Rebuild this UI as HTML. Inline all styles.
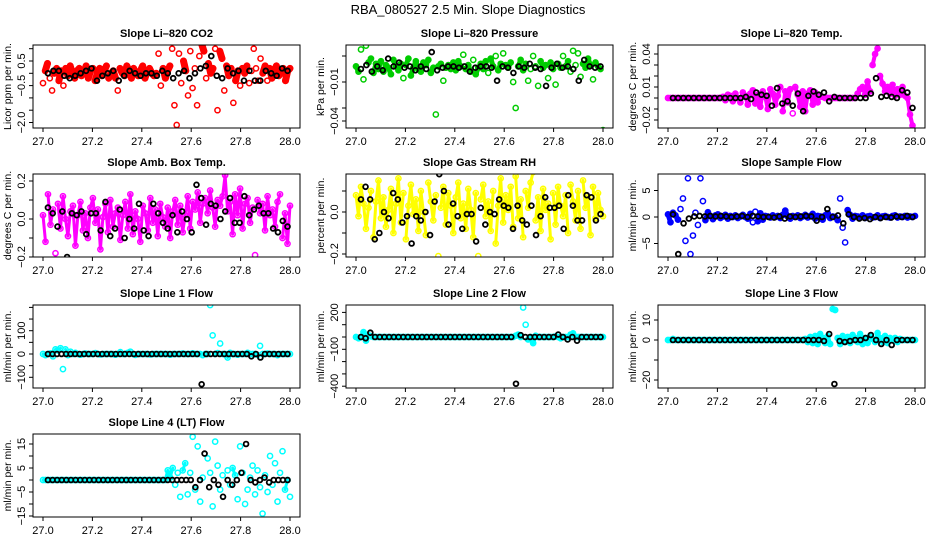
<!DOCTYPE html>
<html><head><meta charset="utf-8">
<style>
html,body{margin:0;padding:0;background:#fff;}
svg{display:block;font-family:"Liberation Sans",Arial,sans-serif;}
</style></head>
<body>
<svg id="chart" width="936" height="540" viewBox="0 0 936 540">
<text x="468" y="14" text-anchor="middle" font-size="13">RBA_080527  2.5 Min. Slope Diagnostics</text>
</svg>
<script>
// ---------- data ----------
const xTickLabels = ["27.0","27.2","27.4","27.6","27.8","28.0"];
const xTickValues = [27.0,27.2,27.4,27.6,27.8,28.0];

const co2Color = [-0.4,0.1,0.4,-0.2,-0.7,0.0,0.2,-0.3,0.1,-0.5,0.2,-0.1,0.3,0.0,-0.2,0.1,0.2,-0.1,0.0,0.3,-0.2,0.1,0.2,-0.3,0.0,0.2,-0.1,0.1,0.3,-0.2,0.0,0.1,-0.2,-0.7,0.2,0.0,-0.1,0.3,0.1,-0.2,0.2,0.0,-0.1,0.1,0.3,-0.2,0.1,0.2,0.0,-0.1,0.0,0.8,-0.5,0.2,-0.2,0.1,0.3,1.0,-1.3,-2.1,0.8,-0.4,0.5,0.1,-0.9,0.9,-0.6,0.2,-1.3,0.7,1.2,0.9,-0.2,0.4,0.0,0.2,1.0,-1.5,0.9,0.6,-0.7,0.3,-0.1,0.2,-1.2,-0.3,0.1,-0.5,0.2,0.0,0.3,-0.4,0.1,1.0,0.2,-0.3,0.6,0.0,0.3,-0.3,0.2,-0.2,0.1,0.3,-0.1,0.0,0.2,-0.3,0.1,0.2];
const co2Black = [0.0,0.1,0.1,-0.1,-0.2,-0.1,0.0,0.1,0.2,-0.3,-0.1,0.0,0.1,-0.3,-0.1,0.1,0.0,-0.1,0.0,0.0,-0.1,0.1,0.0,-0.2,0.0,0.1,-0.2,0.0,0.2,0.3,0.7,-0.1,-0.2,0.2,0.0,0.1,-0.3,0.1,-0.3,-0.3,0.1,0.0,-0.1,0.2,0.1];

const presColor = [0.002,-0.002,0.015,-0.008,0.018,0.005,0.008,-0.003,0.004,0.000,0.006,-0.002,0.003,0.001,-0.004,0.007,0.002,-0.001,0.004,-0.007,0.003,0.008,-0.005,0.001,0.006,0.000,-0.002,0.005,0.003,0.007,-0.003,0.001,-0.035,0.002,0.004,-0.009,0.001,0.003,0.000,0.005,-0.001,0.006,0.002,0.011,0.000,0.003,-0.002,0.007,-0.004,0.001,0.004,0.000,0.006,-0.003,0.008,0.002,0.010,-0.001,0.004,0.012,0.003,0.001,0.005,-0.010,-0.030,0.002,0.007,-0.001,0.004,-0.009,0.000,0.010,0.002,-0.013,0.006,0.001,0.003,-0.007,0.005,0.000,-0.012,0.004,0.001,0.010,0.002,0.006,-0.002,0.014,0.003,0.012,-0.006,0.004,0.001,0.008,0.003,-0.008,0.005,0.002,0.000,-0.047];
const presBlack = [0.000,0.003,-0.002,0.002,-0.001,0.008,0.002,0.005,0.001,0.002,-0.001,0.002,0.000,0.013,-0.001,0.001,0.002,0.002,0.001,0.002,-0.002,0.001,0.002,0.002,0.001,-0.009,0.002,0.001,-0.003,0.002,0.001,0.004,0.001,0.000,-0.013,0.001,0.004,0.001,0.002,0.000,-0.009,0.007,0.002,0.001,0.002];

const tempColor = [0,0,0,0,0,0,0,0,0,0,0,0,0,0,0,0,0,0,0,0,0,0,0.001,-0.002,0.003,0.002,-0.003,0.004,0.000,-0.004,0.005,0.002,-0.006,0.004,0.007,-0.005,0.003,-0.008,0.006,0.001,-0.010,0.008,0.004,-0.006,0.002,0.010,-0.012,0.006,-0.004,0.008,-0.014,0.010,0.003,-0.008,0.006,-0.012,0.004,0.007,-0.006,0.005,-0.004,0.002,0.001,0,0,0,0,0,0,0,0,0,0,0,0,0,0.004,0.008,0.010,0.003,0.015,0.006,0.030,0.040,0.045,0.020,0.013,0.006,0.010,0.004,0.012,0.002,0.008,0.003,0.010,0.002,0.000,-0.015,-0.025,-0.033];
const tempBlack = [0,0,0,0,0,0,0,0,0,0,0,0,0,0,0.001,-0.001,0.005,0.003,0.002,-0.007,0.009,-0.005,-0.003,-0.007,0.004,-0.012,0.002,0.006,0.003,0.005,-0.003,0.001,0,0,0,0,0,0,0.004,0.018,0.001,0.002,0.001,0,0.007,0.005,-0.009];

const ambColor = [0.02,-0.12,0.13,-0.03,0.05,-0.18,0.08,-0.05,0.12,0.00,-0.09,0.04,0.07,-0.14,0.02,0.09,-0.06,0.03,-0.10,0.06,0.11,-0.02,0.05,-0.16,0.01,0.08,-0.07,0.10,-0.04,0.03,0.06,-0.11,0.02,0.09,-0.05,0.13,-0.08,0.04,0.00,-0.12,0.07,0.03,-0.06,0.11,-0.02,0.05,-0.09,0.08,0.01,-0.04,0.06,-0.10,0.04,0.10,-0.03,0.07,-0.07,0.02,0.12,-0.05,0.09,0.05,0.14,-0.02,0.08,0.11,0.03,0.15,0.06,-0.04,0.10,0.07,0.12,0.23,0.04,0.09,-0.08,0.13,0.02,0.16,-0.05,0.08,0.11,-0.02,0.06,-0.19,0.10,0.03,0.08,-0.06,0.12,0.02,0.05,-0.04,0.09,0.13,-0.10,0.03,-0.13,0.07];
const ambBlack = [0.06,0.03,-0.04,0.04,-0.2,0.03,0.02,0.04,-0.08,0.03,0.03,-0.06,0.09,-0.09,-0.05,0.05,-0.1,0.0,-0.05,0.08,-0.06,-0.09,0.08,0.03,-0.02,-0.05,0.02,-0.07,0.04,0.0,-0.07,0.18,0.11,-0.03,0.08,0.07,0.0,0.04,0.11,-0.02,-0.02,0.12,0.02,0.05,0.07,0.03,0.03,-0.05,-0.07,-0.01,-0.04];

const rhColor = [0.08,-0.02,0.12,0.04,-0.08,0.02,0.10,-0.12,0.05,0.15,-0.03,0.07,-0.07,0.01,0.11,-0.10,0.04,0.16,-0.05,0.09,-0.13,0.03,0.13,-0.01,0.06,-0.09,0.10,0.00,-0.11,0.14,0.05,-0.04,0.08,-0.21,0.02,0.12,-0.06,0.09,0.03,-0.10,0.07,0.14,-0.03,0.04,-0.08,0.11,0.01,-0.12,0.09,-0.21,0.06,0.13,-0.02,0.05,-0.09,0.10,-0.15,0.03,0.16,-0.05,0.08,0.01,0.12,-0.07,0.17,-0.03,0.06,-0.12,0.10,0.02,0.14,0.19,-0.04,0.07,-0.09,0.11,0.01,0.04,-0.13,0.09,-0.06,0.12,0.03,-0.02,0.08,-0.10,0.13,0.05,-0.04,0.10,-0.08,0.15,0.02,0.07,-0.11,0.12,-0.03,0.09,0.01,-0.02];
const rhBlack = [0.06,0.12,0.06,-0.13,-0.10,0.0,-0.03,0.09,0.06,-0.05,-0.02,-0.15,-0.02,-0.04,0.0,-0.11,0.05,0.18,0.10,-0.06,0.04,-0.02,-0.08,-0.01,-0.01,-0.14,0.02,-0.06,0.0,-0.01,0.06,0.03,0.02,-0.08,0.03,-0.04,-0.06,0.03,-0.11,-0.02,0.07,0.02,0.02,0.03,-0.08,0.08,0.03,-0.04,-0.04,0.08,0.07,-0.04,-0.01];

const flowColor = [0.5,-1.0,0.8,0.3,-0.5,1.5,3.5,-4.5,7.3,-7.0,-3.5,0.8,-1.5,7.3,3.0,-0.6,0.9,0.2,-0.4,0.3,0.5,-0.2,0.1,0.4,-0.3,0.2,0.0,0.3,-0.2,0.1,0.4,0.0,-0.3,0.6,-1.0,1.0,-0.8,0.7,-0.5,0.2,0.1,-0.1,0.3,0.0,0.2,-0.2,0.4,1.2,0.1,-0.3,0.2,0.0,0.3,-0.2,0.1,0.4,-0.1,0.2,0.6,-0.3,0.2,0.1,-0.5,0.3,0.7,-0.2,0.1,0.0,-0.6,3.5,-2.0,-4.8,1.3,0.4,-0.3,0.2,0.1,0.0,0.3,-0.2,0.1,0.2,-0.1,0.0,0.3,-0.2,0.1,0.2,0.0,-0.1,0.2,0.3,-0.1,0.1,0.0,0.2,-0.1,0.1,0.0,0.2];
const flowBlack = [0.5,-7.0,-1.2,-0.3,0.1,0.2,0.1,0.2,0.1,0.2,0.1,0.0,0.1,0.2,0.0,0.2,0.1,0.0,0.0,-0.1,0.1,-0.3,0.1,0.0,0.1,0.2,0.1,-0.7,0.0,1.5,0.0,0.3,-1.2,0.5,0.0,-0.3,-0.2,-0.4,0.0,-0.2,0.0,-0.1,0.1,0.0,0.2,0.0];

const line1Color = [0,-5,0,3,-10,20,15,25,-65,20,-5,10,0,5,0,-3,0,2,0,0,0,4,0,-2,0,0,0,0,0,-3,0,8,0,0,5,10,0,-4,0,0,0,0,0,-2,0,0,0,0,0,0,0,-3,0,0,0,0,2,0,0,0,3,0,0,0,-5,0,0,210,80,0,4,45,0,0,-15,5,0,0,-3,0,0,0,5,0,0,0,-4,35,0,0,2,0,0,0,-5,0,0,0,0,0];
const line1Black = [0,0,0,0,0,0,0,0,0,0,0,0,0,0,0,0,0,0,0,0,0,0,0,0,0,0,0,0,0,0,0,0,0,0,-130,0,0,0,0,0,0,0,0,0,0,-10,0,-15,0,0,0,0,0,0];
const line2Color = [0,-10,0,40,-30,15,5,0,0,0,0,0,0,0,0,0,0,0,0,0,0,0,0,0,0,0,0,0,0,0,0,0,0,0,0,0,0,0,0,0,0,0,0,0,0,0,0,0,0,0,0,0,0,0,0,0,0,0,0,0,0,0,0,0,10,20,0,240,100,-20,0,-50,10,0,0,0,0,0,0,0,5,0,-10,0,0,0,20,30,0,0,0,0,0,0,0,0,0,0,0,0];
const line2Black = [0,-10,35,0,0,0,0,0,0,0,0,0,0,0,0,0,0,0,0,0,0,0,0,0,0,0,0,0,0,0,0,0,0,-380,15,0,0,0,0,0,0,0,20,0,-20,0,-30,0,0,0,0,0];
const line3Color = [0,0,0.5,0,0,0,0,0,0,0,0,0,0,0,0,0,0,0,0,0,0,0,0,0,0,0,0,0,0,0,0,0,0,0,0,0,0,0,0,0,0,0,0,0,0,0,0,0,0,0,0,0,0,0,0,0.5,-1,1.5,-1.5,2,-2,3,1,-1.5,2,-2,15.5,15,1,-2,2,-1,1.5,-1.5,2.5,1,-1,3,-2,1,-1.5,2,0.5,-1,3.5,1,-1,2,-1.5,1,0,1,-1,0.5,0,0,0,0,0,0];
const line3Black = [0,0,0,0,0,0,0,0,0,0,0,0,0,0,0,0,0,0,0,0,0,0,0,0,0,0,0,0,0,-0.5,3,-22,-0.5,-1,-0.5,0,0,1,2.5,0,-2,0,-2.5,0,0,0,0];
const line4Color = [0,0,0,0,0,0,0,0,0,0,0,0,0,0,0,0,0,0,0,0,0,0,0,0,0,0,0,0,0,0,0,0,0,0,0,0,0,0,0,0,0,0,0,0,0,0,0,0,0,0,4,1,5,-2,3,-7,4,7,-6,3,18,-4,14,-9,1,-20,9,3,-11,16,6,-4,2,-17,4,-2,5,2,-8,14,3,-10,-4,1,6,-6,4,-3,-14,2,-5,10,-2,7,-9,3,12,-4,0,-7];
const line4Black = [0,0,0,0,0,0,0,0,0,0,0,0,0,0,0,0,0,0,0,0,0,0,0,0,0,0,0,0,0,0,0,0,-3,0,11,-3,0,-2,-7,0,-2,0,3,15,0,-1,0,1,-1,0,0,0,0];

// ---------- layout ----------
const colLeft = [33,346,658], rowTop = [45,174,305,434], boxW = 267, boxH = 83;
const panels = [
 {name:"co2",title:"Slope Li\u2013820 CO2",ylab:"Licor ppm per min.",col:"#ff0000",c:co2Color,k:co2Black,r:0,q:0,zero:28.3,ppu:24.6,band:7,jump:12,ticks:[1,0.5,0,-0.5,-1,-1.5,-2],labels:{"0.5":"0.5","-0.5":"\u22120.5","-2":"\u22122.0"}},
 {name:"pressure",title:"Slope Li\u2013820 Pressure",ylab:"kPa per min.",col:"#00cc00",c:presColor,k:presBlack,r:0,q:1,zero:24,ppu:1300,band:5,jump:10,ticks:[0.01,-0.01,-0.03,-0.04],labels:{"-0.01":"\u22120.01","-0.04":"\u22120.04"}},
 {name:"temp",title:"Slope Li\u2013820 Temp.",ylab:"degrees C per min.",col:"#ff00ff",c:tempColor,k:tempBlack,r:0,q:2,zero:53,ppu:1100,band:4,jump:20,ticks:[0.04,0.03,0.02,0.01,0,-0.01,-0.02],labels:{"0.04":"0.04","0.01":"0.01","-0.02":"\u22120.02"}},
 {name:"amb-box-temp",title:"Slope Amb. Box Temp.",ylab:"degrees C per min.",col:"#ff00ff",c:ambColor,k:ambBlack,r:1,q:0,zero:45,ppu:190,band:3,jump:40,ticks:[0.2,0.1,0,-0.1,-0.2],labels:{"0.2":"0.2","0":"0.0","-0.2":"\u22120.2"}},
 {name:"gas-stream-rh",title:"Slope Gas Stream RH",ylab:"percent per min.",col:"#ffff00",c:rhColor,k:rhBlack,r:1,q:1,zero:38,ppu:210,band:3,jump:45,ticks:[0.1,0,-0.1,-0.2],labels:{"0":"0.0","-0.2":"\u22120.2"}},
 {name:"sample-flow",title:"Slope Sample Flow",ylab:"ml/min per min.",col:"#0000ff",c:flowColor,k:flowBlack,r:1,q:2,zero:43,ppu:5.3,band:5,jump:8,ticks:[5,0,-5],labels:{"5":"5","0":"0","-5":"\u22125"}},
 {name:"line1-flow",title:"Slope Line 1 Flow",ylab:"ml/min per min.",col:"#00ffff",c:line1Color,k:line1Black,r:2,q:0,zero:49,ppu:0.233,band:3,jump:8,ticks:[200,150,100,50,0,-50,-100],labels:{"100":"100","0":"0","-100":"\u2212100"}},
 {name:"line2-flow",title:"Slope Line 2 Flow",ylab:"ml/min per min.",col:"#00ffff",c:line2Color,k:line2Black,r:2,q:1,zero:32,ppu:0.123,band:4,jump:8,ticks:[200,100,0,-100,-200,-300,-400],labels:{"200":"200","-100":"\u2212100","-400":"\u2212400"}},
 {name:"line3-flow",title:"Slope Line 3 Flow",ylab:"ml/min per min.",col:"#00ffff",c:line3Color,k:line3Black,r:2,q:2,zero:35,ppu:2.0,band:4,jump:10,ticks:[10,0,-10,-20],labels:{"10":"10","0":"0","-20":"\u221220"}},
 {name:"line4-flow",title:"Slope Line 4 (LT) Flow",ylab:"ml/min per min.",col:"#00ffff",c:line4Color,k:line4Black,r:3,q:0,zero:46,ppu:2.4,band:3,jump:10,ticks:[15,10,5,0,-5,-10,-15],labels:{"15":"15","5":"5","-5":"\u22125","-15":"\u221215"}}
];
const NS = "http://www.w3.org/2000/svg";
const svg = document.getElementById("chart");
function mk(tag, attrs, parent){const e=document.createElementNS(NS,tag);for(const a in attrs)e.setAttribute(a,attrs[a]);(parent||svg).appendChild(e);return e;}

panels.forEach(p=>{
  const L = colLeft[p.q], T = rowTop[p.r];
  const xs = t => L + 10 + (t-27)*247;
  const ys = v => T + p.zero - v*p.ppu;
  const g = mk("g",{});
  
  
  const ti = mk("text",{x:L+boxW/2,y:T-8,"text-anchor":"middle","font-size":"11","font-weight":"bold"},g);
  ti.textContent = p.title;
  
  
  const clipId = "clip-"+p.name;
  const cp = mk("clipPath",{id:clipId},g);
  mk("rect",{x:L,y:T,width:boxW,height:boxH},cp);
  const pts = mk("g",{"clip-path":"url(#"+clipId+")",fill:"none","stroke-width":"1.5"},g);
  
  
  const n = p.c.length;
  // dense band: connect successive samples, skipping large jumps (outliers)
  let d = "";
  for(let i=1;i<n;i++){
    const x0=xs(27+(i-1)/(n-1)), y0=ys(p.c[i-1]), x1=xs(27+i/(n-1)), y1=ys(p.c[i]);
    if(Math.abs(y1-y0) <= p.jump) d += "M"+x0.toFixed(1)+" "+y0.toFixed(1)+"L"+x1.toFixed(1)+" "+y1.toFixed(1);
  }
  if(d){
    const tr = mk("path",{d:d,stroke:p.col,"stroke-width":p.band,"stroke-linecap":"round",fill:"none"},pts);
    
    
  }
  p.c.forEach((v,i)=>{
    const c = mk("circle",{cx:xs(27+i/(n-1)),cy:ys(v),r:2.6,stroke:p.col},pts);
    
    
  });
  const m = p.k.length;
  p.k.forEach((v,i)=>{
    const c = mk("circle",{cx:xs(27.02+0.97*i/(m-1)),cy:ys(v),r:2.4,stroke:"#000","stroke-width":"1.8"},pts);
    
    
  });
  const box = mk("rect",{x:L,y:T,width:boxW,height:boxH,fill:"none",stroke:"#000","stroke-width":"1"},g);
  
  
  const xa = mk("g",{},g);
  
  
  xTickValues.forEach((t,i)=>{
    mk("line",{x1:xs(t),x2:xs(t),y1:T+boxH,y2:T+boxH+4,stroke:"#000"},xa);
    const tl = mk("text",{x:xs(t),y:T+boxH+17,"text-anchor":"middle","font-size":"11"},xa);
    tl.textContent = xTickLabels[i];
  });
  const ya = mk("g",{},g);
  
  
  p.ticks.forEach(t=>{
    const y = ys(t);
    mk("line",{x1:L-4,x2:L,y1:y,y2:y,stroke:"#000"},ya);
    const lab = p.labels[String(t)];
    if(lab){
      const tl = mk("text",{x:L-8,y:y,"text-anchor":"middle","font-size":"11",transform:"rotate(-90 "+(L-8)+" "+y+")"},ya);
      tl.textContent = lab;
    }
  });
  const yl = mk("text",{x:L-22,y:T+boxH/2,"text-anchor":"middle","font-size":"10.5",transform:"rotate(-90 "+(L-22)+" "+(T+boxH/2)+")"},g);
  yl.textContent = p.ylab;
  
  
});
</script>
</body></html>
